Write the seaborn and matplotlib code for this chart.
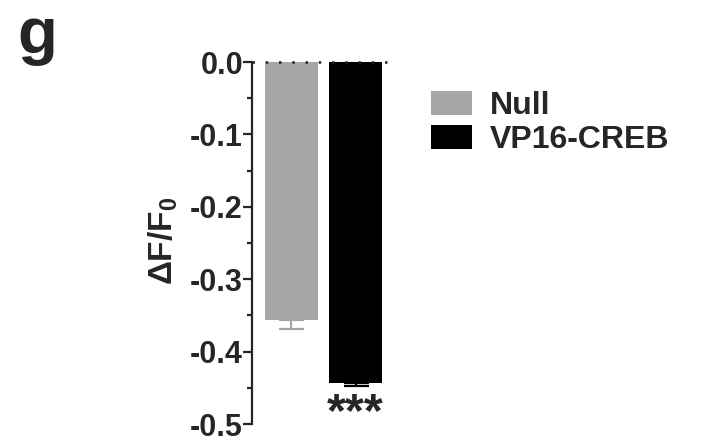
import matplotlib
matplotlib.use("Agg")
import matplotlib.pyplot as plt
import seaborn as sns
import pandas as pd
from matplotlib.patches import Patch
from matplotlib.ticker import MultipleLocator

groups = ["Null", "VP16-CREB"]
values = [-0.357, -0.444]
sem = [0.012, 0.004]
colors = ["#a6a6a6", "#000000"]
yticks = [0.0, -0.1, -0.2, -0.3, -0.4, -0.5]

sns.set_style("ticks")
plt.rcParams["font.family"] = ["Liberation Sans", "DejaVu Sans"]
plt.rcParams["font.weight"] = "bold"
plt.rcParams["mathtext.fontset"] = "custom"
plt.rcParams["mathtext.bf"] = "Liberation Sans:bold"
plt.rcParams["mathtext.rm"] = "Liberation Sans:bold"
plt.rcParams["mathtext.default"] = "bf"

df = pd.DataFrame({"group": groups, "value": values})

fig = plt.figure(figsize=(7.04, 4.36), dpi=100)
ax = fig.add_axes([252 / 704, 1 - 424 / 436, 143 / 704, 362 / 436])

sns.barplot(data=df, x="group", y="value", hue="group", palette=colors,
            order=groups, hue_order=groups, width=0.83, errorbar=None,
            legend=False, ax=ax, saturation=1, edgecolor="none")

for i, (v, e, c) in enumerate(zip(values, sem, colors)):
    ax.errorbar(i, v, yerr=[[e], [0]], fmt="none", ecolor=c,
                elinewidth=1.6, capsize=9, capthick=1.6, clip_on=False)

ax.set_xlim(-0.617, 1.617)
ax.set_ylim(-0.5, 0.0)
ax.axhline(0, color="#222222", lw=1.8, linestyle=(0, (1, 4.3)), clip_on=False, zorder=5)

sns.despine(ax=ax, bottom=True)
ax.spines["left"].set_linewidth(1.6)
ax.set_xticks([])
ax.set_xlabel("")
ax.set_yticks(yticks)
ax.set_yticklabels([f"{t:.1f}" if t != 0 else "0.0" for t in yticks])
ax.yaxis.set_minor_locator(MultipleLocator(0.05))
ax.tick_params(axis="y", which="major", length=6.5, width=1.6, labelsize=22, pad=0)
ax.tick_params(axis="y", which="minor", length=3.6, width=1.6)
for lbl in ax.get_yticklabels():
    lbl.set_fontweight("bold")

ax.set_ylabel("ΔF/F$_0$", fontsize=24, fontweight="bold")
ax.yaxis.set_label_coords(-0.50, 0.505)

ax.text(1, -0.485, "***", ha="center", va="center", fontsize=35, fontweight="bold")

handles = [Patch(facecolor=c, edgecolor="none", label=g) for g, c in zip(groups, colors)]
fig.legend(handles=handles, loc="upper left", bbox_to_anchor=(431 / 704, 1 - 91 / 436),
           frameon=False, prop={"weight": "bold", "size": 23},
           handlelength=1.28, handleheight=0.8, handletextpad=0.56,
           labelspacing=0.1, borderpad=0, borderaxespad=0)

fig.text(17 / 704, 1 - 53 / 436, "g", fontsize=47, fontweight="bold", va="baseline")

fig.savefig("out.png", dpi=100)
